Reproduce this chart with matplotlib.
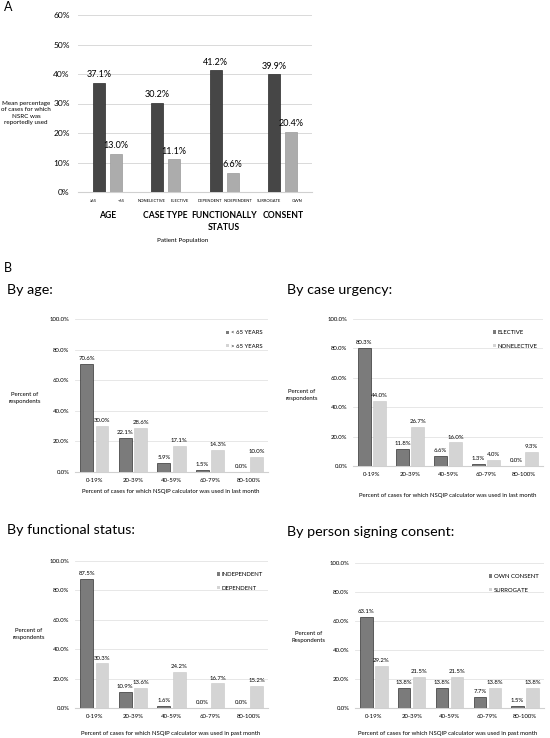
import numpy as np
import matplotlib
matplotlib.use("Agg")
import matplotlib.pyplot as plt

plt.rcParams["font.family"] = ["Lato", "DejaVu Sans"]

# ---- panel A data ----
a_groups = ["AGE", "CASE TYPE", "FUNCTIONALLY\nSTATUS", "CONSENT"]
a_sub_dark = ["\u226565", "NONELECTIVE", "DEPENDENT", "SURROGATE"]
a_sub_light = ["<65", "ELECTIVE", "INDEPENDENT", "OWN"]
a_dark = [37.1, 30.2, 41.2, 39.9]
a_light = [13.0, 11.1, 6.6, 20.4]

# ---- panel B data ----
b_bins = ["0-19%", "20-39%", "40-59%", "60-79%", "80-100%"]
age_lt65 = [70.6, 22.1, 5.9, 1.5, 0.0]
age_gt65 = [30.0, 28.6, 17.1, 14.3, 10.0]
urg_elective = [80.3, 11.8, 6.6, 1.3, 0.0]
urg_nonelective = [44.0, 26.7, 16.0, 4.0, 9.3]
fs_independent = [87.5, 10.9, 1.6, 0.0, 0.0]
fs_dependent = [30.3, 13.6, 24.2, 16.7, 15.2]
cons_own = [63.1, 13.8, 13.8, 7.7, 1.5]
cons_surrogate = [29.2, 21.5, 21.5, 13.8, 13.8]

W, H = 550, 738
fig = plt.figure(figsize=(W / 100, H / 100), dpi=100)


def px_axes(x0, y0, x1, y1):
    return fig.add_axes([x0 / W, 1 - y1 / H, (x1 - x0) / W, (y1 - y0) / H])


def ftext(x, y, s, **kw):
    fig.text(x / W, 1 - y / H, s, **kw)


# ================= PANEL A =================
ax = px_axes(78, 15, 312, 192)
x = np.arange(len(a_groups))
w = 0.2
off = 0.145
dark_a = "#464646"
light_a = "#acacac"
ax.bar(x - off, a_dark, w, color=dark_a, edgecolor="#2a2a2a", linewidth=0.5, zorder=3)
ax.bar(x + off, a_light, w, color=light_a, edgecolor="#9a9a9a", linewidth=0.5, zorder=3)
for xi, v in zip(x - off, a_dark):
    ax.text(xi, v + 1.2, f"{v:.1f}%", ha="center", va="bottom", fontsize=6.5)
for xi, v in zip(x + off, a_light):
    ax.text(xi, v + 1.2, f"{v:.1f}%", ha="center", va="bottom", fontsize=6.5)
ax.set_xlim(-0.5, 3.5)
ax.set_ylim(0, 60)
ax.set_yticks(np.arange(0, 61, 10))
ax.set_yticklabels([f"{v}%" for v in range(0, 61, 10)], fontsize=6)
ax.grid(axis="y", color="#d9d9d9", linewidth=0.7, zorder=0)
for s in ["top", "right", "left"]:
    ax.spines[s].set_visible(False)
ax.spines["bottom"].set_color("#d0d0d0")
ax.tick_params(length=0, pad=6)
ax.set_xticks([])
tr = ax.get_xaxis_transform()
sub_off = 0.24
for i in range(len(a_groups)):
    ax.annotate(a_sub_dark[i], (x[i] - sub_off, 0), xycoords=tr, xytext=(0, -5),
                textcoords="offset points", ha="center", va="top", fontsize=3.0)
    ax.annotate(a_sub_light[i], (x[i] + sub_off, 0), xycoords=tr, xytext=(0, -5),
                textcoords="offset points", ha="center", va="top", fontsize=3.0)
    ax.annotate(a_groups[i], (x[i], 0), xycoords=tr, xytext=(0, -14),
                textcoords="offset points", ha="center", va="top", fontsize=6.2,
                fontweight="bold", linespacing=1.3)
ftext(183, 241, "Patient Population", ha="center", va="center", fontsize=4.5)
ftext(26, 113, "Mean percentage\nof cases for which\nNSRC was\nreportedly used",
      ha="center", va="center", fontsize=4.5, linespacing=1.3)
ftext(8, 7, "A", ha="center", va="center", fontsize=9)
ftext(8, 268, "B", ha="center", va="center", fontsize=9)

# ================= PANEL B =================
dark_b = "#7b7b7b"
light_b = "#d4d4d4"


def panel_b(box, dark, light, labels, ylab, xlab, title, title_xy, ylab_xy, xlab_xy):
    ax = px_axes(*box)
    xb = np.arange(len(b_bins))
    ax.bar(xb - 0.2, dark, 0.33, color=dark_b, edgecolor="#333333", linewidth=0.5,
           zorder=3, label=labels[0])
    ax.bar(xb + 0.2, light, 0.33, color=light_b, edgecolor="#c8c8c8", linewidth=0.4,
           zorder=3, label=labels[1])
    for xi, v in zip(xb - 0.2, dark):
        ax.text(xi, v + 2, f"{v:.1f}%", ha="center", va="bottom", fontsize=4.3)
    for xi, v in zip(xb + 0.2, light):
        ax.text(xi, v + 2, f"{v:.1f}%", ha="center", va="bottom", fontsize=4.3)
    ax.set_xlim(-0.5, len(b_bins) - 0.5)
    ax.set_ylim(0, 100)
    ax.set_yticks(np.arange(0, 101, 20))
    ax.set_yticklabels([f"{v:.1f}%" for v in range(0, 101, 20)], fontsize=4.3)
    ax.set_xticks(xb)
    ax.set_xticklabels(b_bins, fontsize=4.3)
    ax.grid(axis="y", color="#e3e3e3", linewidth=0.6, zorder=0)
    for s in ["top", "right", "left"]:
        ax.spines[s].set_visible(False)
    ax.spines["bottom"].set_color("#d0d0d0")
    ax.tick_params(length=0, pad=4)
    leg = ax.legend(loc="upper right", bbox_to_anchor=(1.0, 0.96), frameon=False,
                    fontsize=4.3, handlelength=0.5, handleheight=0.5,
                    handletextpad=0.3, labelspacing=1.4)
    for h in leg.legend_handles:
        h.set_edgecolor("none")
    ftext(*title_xy, title, ha="left", va="center", fontsize=10.3)
    ftext(*ylab_xy, ylab, ha="center", va="center", fontsize=4.3, linespacing=1.3)
    ftext(*xlab_xy, xlab, ha="center", va="center", fontsize=4.3)


panel_b((75, 319, 268, 472), age_lt65, age_gt65, ["< 65 YEARS", "> 65 YEARS"],
        "Percent of\nrespondents",
        "Percent of cases for which NSQIP calculator was used in last month",
        "By age:", (7, 290), (25, 398), (171, 492))
panel_b((353, 319, 543, 466), urg_elective, urg_nonelective, ["ELECTIVE", "NONELECTIVE"],
        "Percent of\nrespondents",
        "Percent of cases for which NSQIP calculator was used in last month",
        "By case urgency:", (287, 290), (302, 395), (448, 495))
panel_b((75, 561, 268, 708), fs_independent, fs_dependent, ["INDEPENDENT", "DEPENDENT"],
        "Percent of\nrespondents",
        "Percent of cases for which NSQIP calculator was used in past month",
        "By functional status:", (7, 530), (29, 634), (171, 733))
panel_b((355, 563, 544, 708), cons_own, cons_surrogate, ["OWN CONSENT", "SURROGATE"],
        "Percent of\nRespondents",
        "Percent of cases for which NSQIP calculator was used in past month",
        "By person signing consent:", (287, 532), (309, 637), (448, 733))

fig.savefig("out.png", dpi=100)
